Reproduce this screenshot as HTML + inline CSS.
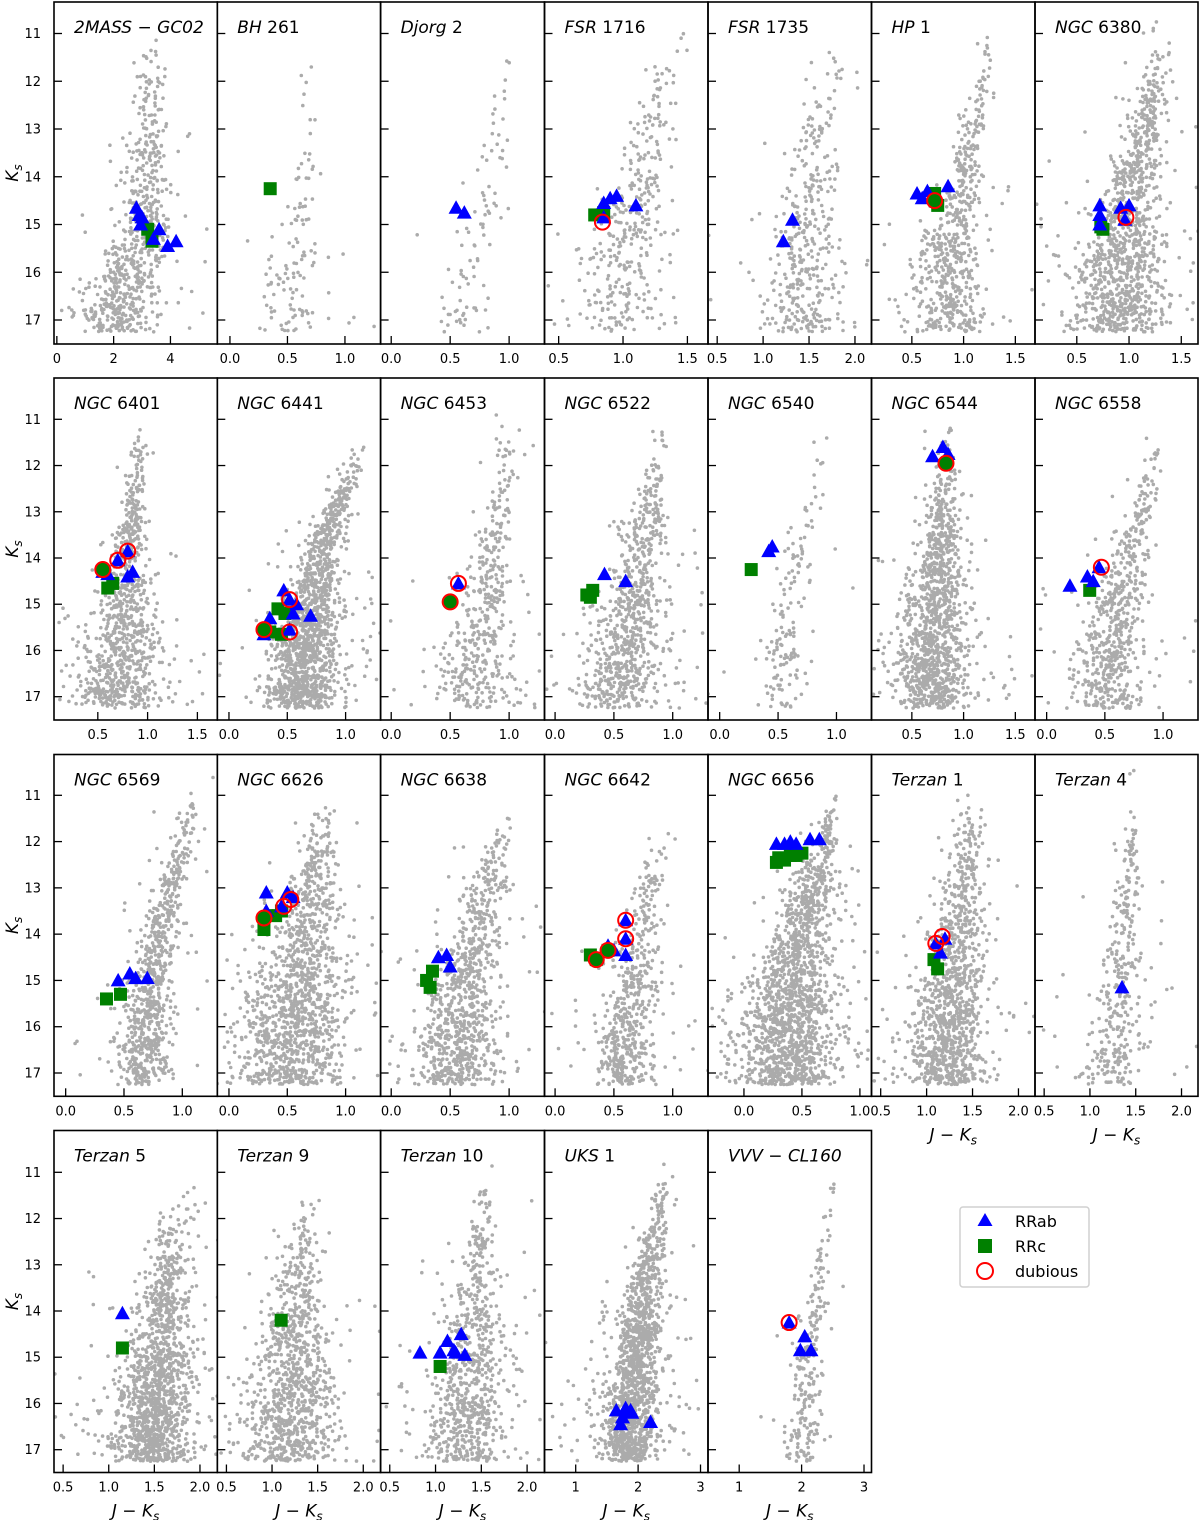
<!DOCTYPE html>
<html><head><meta charset="utf-8">
<style>
html,body{margin:0;padding:0;background:#fff;}
svg{display:block;font-family:"DejaVu Sans","Liberation Sans",sans-serif;}
</style></head>
<body>
<svg id="fig" width="1200" height="1520" viewBox="0 0 1200 1520" xmlns="http://www.w3.org/2000/svg">
<g id="legend">
<rect x="960" y="1207" width="129" height="80" rx="3" fill="#fff" stroke="#d0d0d0" stroke-width="1.5"/>
<g><polygon points="985,1213 977.5,1226 992.5,1226" fill="#0000ff"/><text x="1015" y="1227" font-size="16">RRab</text></g>
<g><rect x="978" y="1239" width="14" height="14" fill="#008000"/><text x="1015" y="1252" font-size="16">RRc</text></g>
<g><circle cx="985" cy="1271" r="8" fill="none" stroke="#ff0000" stroke-width="2"/><text x="1015" y="1277" font-size="16">dubious</text></g>
</g>
</svg>
<script>
// ---- data ----
const titleItalic=["2MASS − GC02","BH","Djorg","FSR","FSR","HP","NGC","NGC","NGC","NGC","NGC","NGC","NGC","NGC","NGC","NGC","NGC","NGC","NGC","Terzan","Terzan","Terzan","Terzan","Terzan","UKS","VVV − CL160"];
const titleRoman=["","261","2","1716","1735","1","6380","6401","6441","6453","6522","6540","6544","6558","6569","6626","6638","6642","6656","1","4","5","9","10","1",""];
const xLims=[[-0.1,5.65],[-0.11,1.31],[-0.09,1.3],[0.39,1.66],[0.4,2.18],[0.11,1.69],[0.1,1.66],
[0.06,1.7],[-0.1,1.3],[-0.09,1.3],[-0.09,1.3],[-0.1,1.3],[0.11,1.69],[-0.1,1.3],
[-0.1,1.3],[-0.1,1.3],[-0.09,1.3],[-0.09,1.3],[-0.31,1.1],[0.4,2.18],[0.4,2.18],
[0.4,2.19],[0.4,2.19],[0.4,2.19],[0.5,3.12],[0.5,3.12]];
const xTicks=[["0","2","4"],["0.0","0.5","1.0"],["0.0","0.5","1.0"],["0.5","1.0","1.5"],["0.5","1.0","1.5","2.0"],["0.5","1.0","1.5"],["0.5","1.0","1.5"],
["0.5","1.0","1.5"],["0.0","0.5","1.0"],["0.0","0.5","1.0"],["0.0","0.5","1.0"],["0.0","0.5","1.0"],["0.5","1.0","1.5"],["0.0","0.5","1.0"],
["0.0","0.5","1.0"],["0.0","0.5","1.0"],["0.0","0.5","1.0"],["0.0","0.5","1.0"],["0.0","0.5","1.0"],["0.5","1.0","1.5","2.0"],["0.5","1.0","1.5","2.0"],
["0.5","1.0","1.5","2.0"],["0.5","1.0","1.5","2.0"],["0.5","1.0","1.5","2.0"],["1","2","3"],["1","2","3"]];
const yTicks=[11,12,13,14,15,16,17];
const rrab=[
[[2.8,14.65],[2.9,14.8],[3.0,14.85],[2.95,15.0],[3.6,15.1],[3.9,15.45],[4.2,15.35],[3.4,15.3]],
[],
[[0.55,14.65],[0.62,14.75]],
[[0.85,14.55],[0.9,14.45],[0.95,14.4],[1.1,14.6],[0.85,14.85]],
[[1.32,14.9],[1.22,15.35]],
[[0.55,14.35],[0.65,14.3],[0.85,14.2],[0.6,14.45]],
[[0.72,14.6],[0.72,14.8],[0.72,15.0],[0.92,14.65],[1.0,14.6],[0.96,14.9]],
[[0.55,14.3],[0.7,14.05],[0.8,13.85],[0.85,14.3],[0.8,14.4],[0.6,14.35]],
[[0.47,14.7],[0.52,14.9],[0.58,15.0],[0.7,15.25],[0.35,15.3],[0.3,15.65],[0.52,15.55],[0.55,15.2]],
[[0.57,14.55]],
[[0.42,14.35],[0.6,14.5]],
[[0.42,13.85],[0.45,13.75]],
[[0.8,11.6],[0.7,11.8],[0.85,11.75]],
[[0.2,14.6],[0.35,14.4],[0.4,14.5],[0.45,14.2]],
[[0.45,15.0],[0.55,14.85],[0.6,14.95],[0.7,14.95]],
[[0.32,13.1],[0.5,13.1],[0.45,13.4],[0.55,13.2],[0.32,13.5]],
[[0.4,14.5],[0.47,14.45],[0.5,14.7]],
[[0.6,13.7],[0.6,14.1],[0.5,14.35],[0.6,14.45],[0.45,14.25]],
[[0.28,12.05],[0.35,12.05],[0.4,12.0],[0.45,12.05],[0.57,11.95],[0.65,11.95]],
[[1.15,14.4],[1.1,14.2],[1.2,14.1]],
[[1.35,15.15]],
[[1.15,14.05]],
[],
[[0.83,14.9],[1.13,14.65],[1.05,14.9],[1.2,14.85],[1.28,14.5],[1.32,14.95],[1.22,14.9]],
[[1.65,16.15],[1.8,16.1],[1.88,16.15],[1.75,16.3],[1.72,16.45],[2.2,16.4],[1.9,16.2]],
[[1.8,14.25],[2.05,14.55],[1.98,14.85],[2.15,14.85]]];
const rrc=[
[[3.2,15.1],[3.35,15.35]],[[0.35,14.25]],[],[[0.78,14.8],[0.85,14.75]],[],[[0.72,14.35],[0.75,14.6]],[[0.73,15.05],[0.75,15.1]],
[[0.65,14.55],[0.6,14.65]],[[0.42,15.1],[0.48,15.2],[0.45,15.65],[0.35,15.6]],[],[[0.27,14.8],[0.32,14.7],[0.3,14.85]],[[0.27,14.25]],[],[[0.37,14.7]],
[[0.35,15.4],[0.47,15.3]],[[0.3,13.9],[0.4,13.6],[0.45,13.5]],[[0.3,15.0],[0.35,14.8],[0.33,15.15]],[[0.3,14.45],[0.45,14.35],[0.35,14.55]],
[[0.28,12.45],[0.3,12.35],[0.35,12.4],[0.4,12.3],[0.45,12.3],[0.5,12.25]],[[1.08,14.55],[1.12,14.75]],[],
[[1.15,14.8]],[[1.1,14.2]],[[1.05,15.2]],[],[]];
const dubious=[
[],[],[],[[0.84,14.95,"b"]],[],[[0.72,14.5,"g"]],[[0.97,14.85,"b"]],
[[0.55,14.25,"g"],[0.7,14.05,"b"],[0.8,13.85,"b"]],[[0.3,15.55,"g"],[0.52,14.9,"b"],[0.52,15.6,"b"]],[[0.57,14.55,"b"],[0.5,14.95,"g"]],[],[],[[0.83,11.95,"g"]],[[0.47,14.2,"b"]],
[],[[0.3,13.65,"g"],[0.47,13.4,"b"],[0.53,13.25,"b"]],[],[[0.6,13.7,"b"],[0.6,14.1,"b"],[0.45,14.35,"g"],[0.35,14.55,"g"]],[],[[1.1,14.2,"b"],[1.17,14.05,"b"]],[],
[],[],[],[],[[1.8,14.25,"b"]]];
// giant-branch ridge lines of the grey field/cluster stars (Ks, J-Ks, width)
const ridgeMag=[
[11,13,14,15,16,17],[11.5,13,14.5,16,17],[11,12,13,14,15,16],[10.6,12,13,14,15,16,17],[11,12,13,14,15,16,17],[10.9,12,13,14,15,16,17],[10.7,12,13,14,15,16,17],
[10.9,12,13,14,15,16,17],[11.3,12,13,14,15,16,17],[10.5,12,13,14,15,16,17],[10.9,12,13,14,15,16,17],[11,12,13,14,15,16],[11,12,13,14,15,16,17],[11.3,12,13,14,15,16,17],
[10.4,12,13,14,15,16,17],[11,12,13,14,15,16,17],[11.3,12,13,14,15,16,17],[11.6,12,13,14,15,16,17],[10.8,12,13,14,15,16,17],[10.9,12,13,14,15,16,17],[10.4,12,13,14,15,16,17],
[11.3,12,13,14,15,16,17],[11.5,12,13,14,15,16,17],[10.8,12,13,14,15,16,17],[10.8,12,13,14,15,16,17],[11,12,13,14,15,16,17]];
const ridgeCol=[
[3.3,3.2,3.2,3.1,2.6,2.0],[0.7,0.68,0.62,0.55,0.5],[1.0,0.98,0.92,0.85,0.75,0.6],[1.5,1.3,1.22,1.15,1.05,1.0,1.0],[1.8,1.7,1.6,1.55,1.5,1.45,1.45],[1.25,1.2,1.1,1.0,0.9,0.85,0.85],[1.3,1.25,1.15,1.05,0.95,0.9,0.9],
[0.95,0.92,0.85,0.8,0.78,0.75,0.72],[1.15,1.05,0.9,0.78,0.7,0.65,0.62],[1.0,0.98,0.92,0.85,0.8,0.72,0.7],[0.9,0.85,0.8,0.72,0.65,0.6,0.55],[0.93,0.85,0.75,0.65,0.6,0.55],[0.85,0.83,0.8,0.77,0.73,0.7,0.7],[0.92,0.9,0.82,0.7,0.62,0.55,0.5],
[1.15,1.0,0.9,0.8,0.72,0.68,0.65],[0.85,0.78,0.7,0.65,0.6,0.55,0.5],[1.0,0.9,0.8,0.7,0.62,0.57,0.53],[0.9,0.87,0.8,0.72,0.67,0.6,0.58],[0.78,0.7,0.6,0.5,0.43,0.38,0.35],[1.5,1.45,1.4,1.35,1.3,1.25,1.2],[1.45,1.45,1.42,1.38,1.35,1.3,1.25],
[1.85,1.75,1.65,1.6,1.55,1.5,1.45],[1.35,1.33,1.3,1.27,1.25,1.2,1.2],[1.55,1.48,1.45,1.42,1.38,1.33,1.3],[2.4,2.3,2.15,2.05,2.0,1.9,1.85],[2.5,2.4,2.3,2.2,2.1,2.05,2.0]];
const ridgeWid=[
[0.3,0.35,0.4,0.45,0.55,0.6],[0.04,0.05,0.08,0.12,0.18],[0.05,0.05,0.06,0.07,0.09,0.11],[0.06,0.07,0.08,0.1,0.13,0.16,0.18],[0.08,0.1,0.12,0.15,0.18,0.2,0.22],[0.04,0.05,0.06,0.08,0.12,0.16,0.18],[0.06,0.07,0.09,0.12,0.16,0.2,0.22],
[0.04,0.05,0.06,0.08,0.14,0.2,0.22],[0.04,0.05,0.06,0.08,0.11,0.14,0.18],[0.04,0.05,0.06,0.08,0.11,0.15,0.18],[0.04,0.05,0.07,0.1,0.13,0.16,0.18],[0.04,0.05,0.06,0.07,0.08,0.09],[0.04,0.05,0.08,0.12,0.15,0.18,0.18],[0.04,0.05,0.06,0.09,0.12,0.15,0.18],
[0.04,0.05,0.06,0.08,0.1,0.12,0.13],[0.05,0.07,0.11,0.15,0.2,0.23,0.23],[0.04,0.05,0.08,0.11,0.14,0.16,0.18],[0.04,0.05,0.06,0.08,0.1,0.12,0.13],[0.04,0.06,0.1,0.14,0.18,0.21,0.23],[0.08,0.1,0.12,0.15,0.18,0.2,0.22],[0.04,0.05,0.07,0.1,0.13,0.16,0.18],
[0.08,0.1,0.12,0.15,0.18,0.2,0.22],[0.06,0.08,0.12,0.16,0.2,0.24,0.28],[0.06,0.08,0.11,0.14,0.18,0.21,0.23],[0.06,0.08,0.11,0.14,0.18,0.21,0.23],[0.04,0.05,0.07,0.08,0.1,0.12,0.13]];
const starCount=[700,120,90,350,400,600,1100,900,1400,450,800,150,1200,600,800,1300,900,550,1600,1100,350,1400,1000,800,1400,230];

// ---- layout ----
const colEdges=[54,217.3,380.6,544.5,708,871.5,1035,1198];
const rowTop=[2,378,754.5,1130.5], rowBot=[344,720,1096.3,1472.5];
const rowY11=[33.5,419.3,795.3,1172.3], rowY17=[320,696.7,1073,1449.7];
const NS="http://www.w3.org/2000/svg";
const svg=document.getElementById('fig');
function mk(tag,attrs,parent){const e=document.createElementNS(NS,tag);for(const k in attrs)e.setAttribute(k,attrs[k]);(parent||svg).appendChild(e);return e;}
function rng(seed){return function(){seed|=0;seed=seed+0x6D2B79F5|0;let t=Math.imul(seed^seed>>>15,1|seed);t=t+Math.imul(t^t>>>7,61|t)^t;return((t^t>>>14)>>>0)/4294967296;};}
function interp(xs,ys,v){if(v<=xs[0])return ys[0];for(let i=1;i<xs.length;i++){if(v<=xs[i]){const f=(v-xs[i-1])/(xs[i]-xs[i-1]);return ys[i-1]+f*(ys[i]-ys[i-1]);}}return ys[ys.length-1];}
const defs=mk('defs',{});
const legend=document.getElementById('legend');

for(let i=0;i<26;i++){
  const row=Math.floor(i/7), col=i%7;
  const x0=colEdges[col], x1=colEdges[col+1], y0=rowTop[row], y1=rowBot[row];
  const xs=v=>x0+(v-xLims[i][0])/(xLims[i][1]-xLims[i][0])*(x1-x0);
  const ys=m=>rowY11[row]+(m-11)*(rowY17[row]-rowY11[row])/6;
  const g=mk('g',{});
  
  
  svg.insertBefore(g,legend);
  const cp=mk('clipPath',{id:'cp'+i},defs);
  mk('rect',{x:x0,y:y0,width:x1-x0,height:y1-y0},cp);
  const sg=mk('g',{'clip-path':'url(#cp'+i+')',fill:'#8a8a8a','fill-opacity':'0.72'},g);
  
  
  const R=rng(1000+i*7919);
  const top=ridgeMag[i][0];
  let d='';
  for(let k=0;k<starCount[i];k++){
    const m=top+(17.25-top)*Math.pow(R(),0.48);
    const gz=Math.sqrt(-2*Math.log(R()+1e-9))*Math.cos(2*Math.PI*R());
    const out=R()<0.1?3:1;
    const c=interp(ridgeMag[i],ridgeCol[i],m)+gz*interp(ridgeMag[i],ridgeWid[i],m)*out;
    const px=xs(c), py=ys(m);
    d+='M'+(px-1.8).toFixed(1)+' '+py.toFixed(1)+'a1.8 1.8 0 1 0 3.6 0a1.8 1.8 0 1 0 -3.6 0';
  }
  mk('path',{d:d},sg);
  rrc[i].forEach(p=>{const r=mk('rect',{x:xs(p[0])-6.5,y:ys(p[1])-6.5,width:13,height:13,fill:'#008000'},g);
    
    });
  rrab[i].forEach(p=>{const cx=xs(p[0]),cy=ys(p[1]);const t=mk('polygon',{points:`${cx},${cy-7.5} ${cx-7.5},${cy+6} ${cx+7.5},${cy+6}`,fill:'#0000ff'},g);
    
    });
  dubious[i].forEach(p=>{const cx=xs(p[0]),cy=ys(p[1]);
    const c=mk('circle',{cx:cx,cy:cy,r:7.5,fill:p[2]==='g'?'#008000':'none',stroke:'#ff0000','stroke-width':2},g);
    
    });
  const fr=mk('rect',{x:x0,y:y0,width:x1-x0,height:y1-y0,fill:'none',stroke:'#000','stroke-width':1.6},g);
  
  
  yTicks.forEach(v=>{const yy=ys(v);mk('line',{x1:x0,x2:x0+8,y1:yy,y2:yy,stroke:'#000','stroke-width':1.3},g);
    if(col===0){const t=mk('text',{x:x0-13,y:yy+4.5,'font-size':13,'text-anchor':'end'},g);t.textContent=v;
      
      }});
  xTicks[i].forEach(lbl=>{const xx=xs(parseFloat(lbl));mk('line',{x1:xx,x2:xx,y1:y1,y2:y1-8,stroke:'#000','stroke-width':1.3},g);
    const t=mk('text',{x:xx,y:y1+19,'font-size':13,'text-anchor':'middle'},g);t.textContent=lbl;
    
    });
  const tt=mk('text',{x:x0+20,y:y0+31,'font-size':17},g);
  
  
  const a=mk('tspan',{'font-style':'italic'},tt);a.textContent=titleItalic[i];
  if(titleRoman[i]){const b=mk('tspan',{},tt);b.textContent=' '+titleRoman[i];}
  if(col===0){const yl=mk('text',{x:0,y:0,'font-size':17,'font-style':'italic',transform:`translate(18,${(y0+y1)/2}) rotate(-90)`,'text-anchor':'middle'},g);
    
    
    yl.innerHTML='K<tspan font-size="12" dy="4">s</tspan>';}
  if(i>=19&&(row===3||col>=5)){const xl=mk('text',{x:(x0+x1)/2,y:y1+44,'font-size':17,'text-anchor':'middle'},g);
    
    
    xl.innerHTML='<tspan font-style="italic">J</tspan> − <tspan font-style="italic">K</tspan><tspan font-size="12" dy="4" font-style="italic">s</tspan>';}
}
</script>
</body></html>
